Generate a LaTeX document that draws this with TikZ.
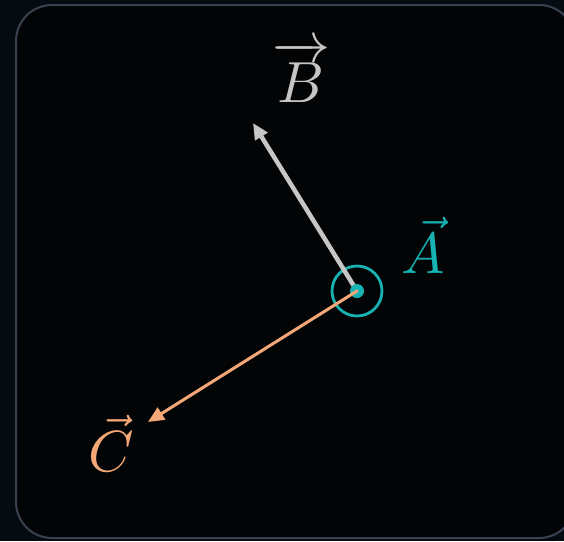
\documentclass[tikz,border=0pt]{standalone}
\usepackage{amsmath}
\usepackage{graphicx}
\usepackage{tikz}
\usetikzlibrary{arrows.meta,positioning}
\definecolor{pagebg}{HTML}{060B11}
\definecolor{panelbg}{HTML}{020406}
\definecolor{panelline}{HTML}{3A4150}
\definecolor{vecA}{HTML}{17B2B2}
\definecolor{vecB}{HTML}{C6C6C6}
\definecolor{vecC}{HTML}{F4A878}
\newcommand{\biglabel}[1]{\scalebox{5.8}{$#1$}}
\tikzset{
  veclabel/.style={inner sep=0pt},
  vecarrow/.style={-{Triangle[length=16pt,width=14pt]}, line cap=round},
}

\begin{document}
\begin{tikzpicture}[x=1pt, y=-1pt]

% ---- canvas and panel ----
\useasboundingbox (0,0) rectangle (564,541);
\fill[pagebg] (0,0) rectangle (564,541);
\draw[panelline, line width=2pt, fill=panelbg, rounded corners=36pt]
  (16,5) rectangle (575,538);

% ---- origin of the vectors ----
\coordinate (O) at (357,291);
\node[circle, draw=vecA, line width=2.8pt, minimum size=50pt, inner sep=0pt] (ring) at (O) {};

% arrow tips
\coordinate (tipB) at (253,123);
\coordinate (tipC) at (148,422);

% ---- vectors ----
\draw[vecarrow, vecB, line width=4.5pt] (O) -- (tipB);
\node[circle, fill=vecA, minimum size=14pt, inner sep=0pt] (A) at (O) {};
\draw[vecarrow, vecC, line width=3pt] (A.center) -- (tipC);

% ---- labels ----
\node[veclabel, text=vecA, anchor=base] (labA) at (423,273) {\biglabel{\vec{A}}};
\node[veclabel, text=vecB, anchor=base] (labB) at (301,102) {\biglabel{\overrightarrow{B}}};
\node[veclabel, text=vecC, anchor=base] (labC) at (111,471) {\biglabel{\vec{C}}};

\end{tikzpicture}
\end{document}
